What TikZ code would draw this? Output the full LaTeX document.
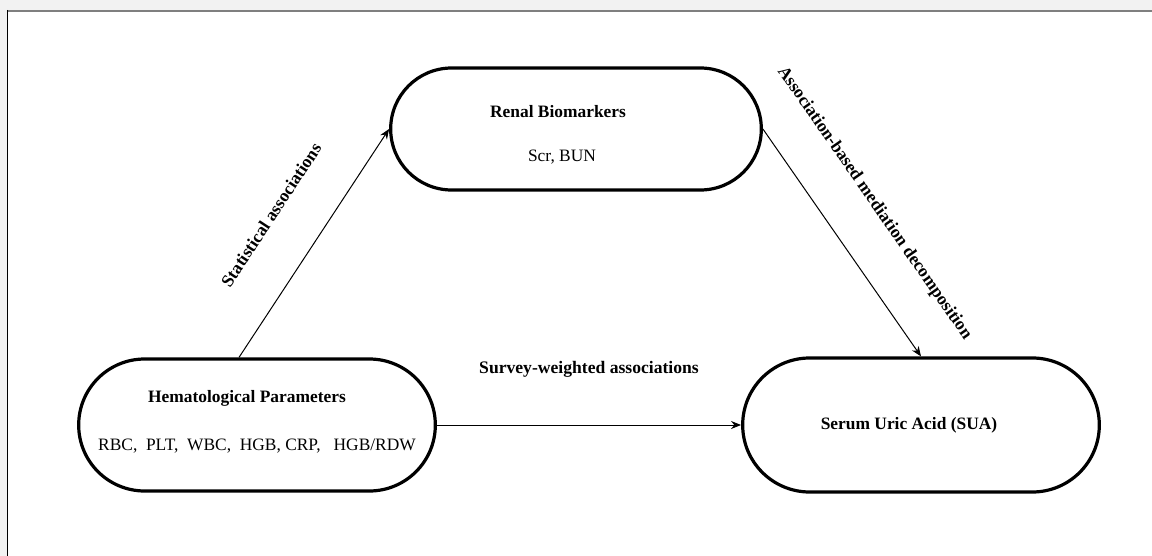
\documentclass[tikz,border=0pt]{standalone}
\usepackage{fontspec}
\setmainfont{Liberation Serif}
\usetikzlibrary{shapes.misc,arrows.meta}

\definecolor{pagegray}{HTML}{F2F2F2}
\definecolor{edgegray}{HTML}{7F7F7F}

\tikzset{
  block/.style={draw, rounded rectangle, line width=1.6pt, align=center,
    font=\fontsize{8.7}{10}\selectfont},
  link/.style={-{Stealth[length=5pt,width=4pt]}, line width=0.5pt},
  tag/.style={font=\bfseries\fontsize{8.8}{10}\selectfont}
}

\begin{document}
\begin{tikzpicture}[x=0.5pt,y=-0.5pt]
  \useasboundingbox (0,0) rectangle (1152,556);
  % page frame
  \fill[pagegray] (0,0) rectangle (1152,556);
  \fill[white] (7,11) rectangle (1152,556);
  \draw[line width=1pt, edgegray] (7,11) -- (1152,11);
  \draw[line width=0.8pt] (7.5,10) -- (7.5,556);

  \node[block, minimum width=192pt, minimum height=61pt] (renal) at (576,129)
    {\rule{0pt}{12pt}\textbf{Renal Biomarkers}\hspace*{18pt}\\[12pt]Scr, BUN\hspace*{14pt}};
  \node[block, minimum width=185pt, minimum height=66pt] (hem) at (257,425)
    {\textbf{Hematological Parameters}\hspace*{10pt}\\[14pt]RBC,\ \ PLT,\ \ WBC,\ \ HGB, CRP,\ \ \ HGB/RDW\rule[-5pt]{0pt}{0pt}};
  \node[block, minimum width=185pt, minimum height=67pt] (sua) at (921,425)
    {\textbf{Serum Uric Acid (SUA)}\hspace*{12pt}};

  \path[link]
    ([xshift=-9pt]hem.north) edge node [tag, sloped, above=19pt] {Statistical associations} (renal.west)
    (renal.east) edge node [tag, sloped, above=17pt, pos=0.45] {Association-based mediation decomposition} (sua.north)
    (hem.east) edge node [tag, above=20pt] {Survey-weighted associations} (sua.west);
\end{tikzpicture}
\end{document}
